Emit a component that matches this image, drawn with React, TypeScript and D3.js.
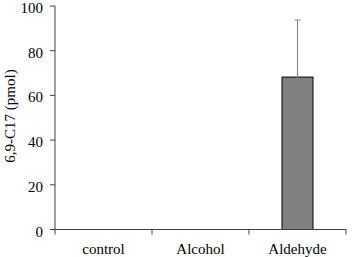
import React from "react";
import * as d3 from "d3";

const categories = ["control", "Alcohol", "Aldehyde"];
const values = [0, 0, 68.2];
const errors = [0, 0, 25.5];
const yTicks = [0, 20, 40, 60, 80, 100];

export default function App() {
  const W = 352, H = 257;
  const left = 55, right = 346, top = 6, bottom = 229.5;
  const x = d3.scaleBand<string>().domain(categories).range([left, right]).paddingInner(0).paddingOuter(0);
  const y = d3.scaleLinear().domain([0, 100]).range([bottom, top]);
  const barW = 31;
  const font = "'Liberation Serif', 'Times New Roman', serif";
  const axisColor = "#404040";
  const fs = 15;
  const bounds = [left, ...categories.map((c) => (x(c) as number) + x.bandwidth())];
  return (
    <svg width={W} height={H} style={{ position: "absolute", left: 0, top: 0 }}>
      <rect width={W} height={H} fill="white" />
      {categories.map((c, i) => {
        if (values[i] <= 0) return null;
        const cx = (x(c) as number) + x.bandwidth() / 2;
        return (
          <g key={c}>
            <rect x={cx - barW / 2} y={y(values[i])} width={barW} height={y(0) - y(values[i])} fill="#808080" stroke="#000" strokeWidth={1} />
            <line x1={cx} x2={cx} y1={y(values[i] + errors[i])} y2={y(values[i] - errors[i])} stroke="#808080" strokeWidth={1} />
            <line x1={cx - 3} x2={cx + 3} y1={y(values[i] + errors[i])} y2={y(values[i] + errors[i])} stroke="#808080" strokeWidth={1} />
            <line x1={cx - 3} x2={cx + 3} y1={y(values[i] - errors[i])} y2={y(values[i] - errors[i])} stroke="#808080" strokeWidth={1} />
          </g>
        );
      })}
      <line x1={left} x2={left} y1={top} y2={bottom} stroke={axisColor} strokeWidth={1} />
      {yTicks.map((t) => (
        <g key={t}>
          <line x1={left - 5} x2={left} y1={y(t)} y2={y(t)} stroke={axisColor} strokeWidth={1} />
          <text x={43} y={y(t) + 2} textAnchor="end" dominantBaseline="central" fontFamily={font} fontSize={fs} fill="#000">{t}</text>
        </g>
      ))}
      <line x1={left} x2={right} y1={bottom} y2={bottom} stroke={axisColor} strokeWidth={1} />
      {bounds.map((b, i) => (
        <line key={i} x1={b} x2={b} y1={bottom} y2={bottom + 5} stroke={axisColor} strokeWidth={1} />
      ))}
      {categories.map((c) => (
        <text key={c} x={(x(c) as number) + x.bandwidth() / 2} y={249} textAnchor="middle" dominantBaseline="central" fontFamily={font} fontSize={fs} fill="#000">{c}</text>
      ))}
      <text transform={`translate(10,116) rotate(-90)`} textAnchor="middle" dominantBaseline="central" fontFamily={font} fontSize={fs} fill="#000">6,9-C17 (pmol)</text>
    </svg>
  );
}
